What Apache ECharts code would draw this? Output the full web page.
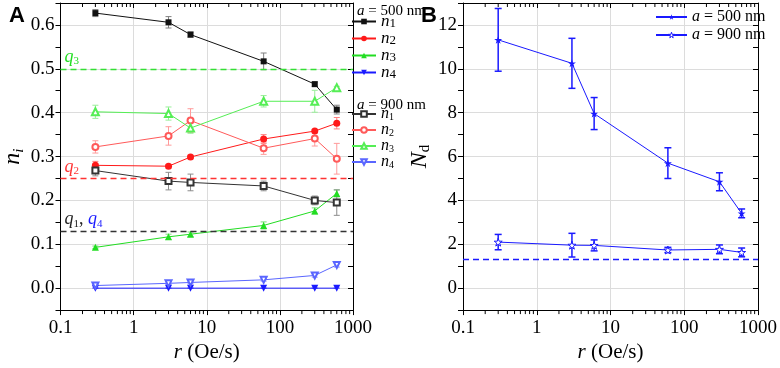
<!DOCTYPE html>
<html>
<head>
<meta charset="utf-8">
<script src="https://cdn.jsdelivr.net/npm/echarts@6/dist/echarts.min.js"></script>
<style>
  html, body { margin: 0; background: #fff; }
  #chart { width: 780px; height: 368px; }
</style>
</head>
<body>
<div id="chart"></div>
<script>
// sweep rates r (Oe/s)
const rates = [0.3, 3, 6, 60, 300, 600]

// panel A, a = 500 nm
const n1_500 = [0.627, 0.606, 0.578, 0.517, 0.465, 0.407]
const n1_500_err = [0.008, 0.013, 0.006, 0.019, 0.005, 0.01]
const n2_500 = [0.280, 0.278, 0.299, 0.340, 0.358, 0.376]
const n2_500_err = [0.009, 0.004, 0.004, 0.01, 0.004, 0.013]
const n3_500 = [0.093, 0.117, 0.123, 0.143, 0.176, 0.216]
const n3_500_err = [0.003, 0.006, 0.005, 0.008, 0.007, 0.008]
const n4_500 = [0, 0, 0, 0, 0, 0]
const n4_500_err = [0, 0, 0, 0, 0, 0]
// panel A, a = 900 nm
const n1_900 = [0.268, 0.244, 0.241, 0.233, 0.200, 0.195]
const n1_900_err = [0.012, 0.02, 0.019, 0.011, 0.01, 0.029]
const n2_900 = [0.322, 0.347, 0.382, 0.319, 0.341, 0.295]
const n2_900_err = [0.014, 0.021, 0.027, 0.014, 0.017, 0.035]
const n3_900 = [0.402, 0.398, 0.365, 0.426, 0.426, 0.457]
const n3_900_err = [0.015, 0.015, 0.012, 0.013, 0.025, 0.003]
const n4_900 = [0.006, 0.011, 0.013, 0.019, 0.029, 0.053]
const n4_900_err = [0.003, 0.003, 0.003, 0.003, 0.004, 0.005]
// q levels: q3, q2, q1 = q4
const qLevels = [0.5, 0.25, 0.125]

// panel B
const nd_500 = [11.32, 10.25, 7.96, 5.7, 4.85, 3.41]
const nd_500_err = [1.43, 1.14, 0.73, 0.7, 0.41, 0.2]
const nd_900 = [2.1, 1.96, 1.95, 1.74, 1.77, 1.63]
const nd_900_err = [0.35, 0.54, 0.25, 0.12, 0.2, 0.2]
const ndLimit = 1.32

// y ranges
const rangeA = [-0.05, 0.65]
const rangeB = [-1, 13]

// log minor tick values 2..9 per decade
const minorX = []
;[0.1, 1, 10, 100].forEach(d => {
  for (let k = 2; k <= 9; k++) minorX.push(k * d)
})

const SERIF = 'Liberation Serif'
const GRID_A = 0
const GRID_B = 1

const star = 'path://M50,0 L61,35 L98,35 L68,57 L79,91 L50,70 L21,91 L32,57 L2,35 L39,35 Z'

// x axes: main bottom, mirror top
function xAxes(gridIndex) {
  const base = {
    gridIndex,
    type: 'log',
    logBase: 10,
    min: 0.1,
    max: 1000,
    axisLine: { onZero: false, lineStyle: { color: '#000', width: 1 } }
  }
  return [
    {
      ...base,
      position: 'bottom',
      axisTick: { inside: false, length: 5, lineStyle: { color: '#000' } },
      axisLabel: {
        margin: 8,
        color: '#000',
        fontFamily: SERIF,
        fontSize: 19,
        formatter: v => String(+(+v).toPrecision(3))
      },
      splitLine: { show: true, lineStyle: { color: '#dcdcdc', width: 1 } },
      name: '{i|r} (Oe/s)',
      nameLocation: 'middle',
      nameGap: 27,
      nameTextStyle: {
        color: '#000',
        fontFamily: SERIF,
        fontSize: 21,
        rich: { i: { fontStyle: 'italic', fontFamily: SERIF, fontSize: 21 } }
      }
    },
    {
      ...base,
      position: 'top',
      axisTick: { inside: true, length: 5, lineStyle: { color: '#000' } },
      axisLabel: { show: false },
      splitLine: { show: false }
    }
  ]
}

// y axes: grid lines, labelled left ticks, mirrored right ticks
function yAxes(gridIndex, range, step, labelStep, name) {
  const base = { gridIndex, type: 'value', min: range[0], max: range[1] }
  return [
    {
      ...base,
      position: 'left',
      splitNumber: 7,
      axisLine: { show: true, onZero: false, lineStyle: { color: '#000' } },
      axisTick: { show: false },
      axisLabel: { show: false },
      splitLine: { show: true, lineStyle: { color: '#dcdcdc', width: 1 } },
      name,
      nameLocation: 'middle',
      nameRotate: 90,
      nameGap: gridIndex === GRID_A ? 34 : 30,
      nameTextStyle: {
        color: '#000',
        fontFamily: SERIF,
        fontSize: 24,
        rich: {
          n: { fontStyle: 'italic', fontFamily: SERIF, fontSize: 24 },
          s: { fontStyle: 'italic', fontFamily: SERIF, fontSize: 15, padding: [12, 0, 0, 0] },
          d: { fontFamily: SERIF, fontSize: 15, padding: [12, 0, 0, 0] }
        }
      }
    },
    {
      ...base,
      position: 'left',
      interval: step,
      axisLine: { show: false, onZero: false },
      axisTick: { inside: false, length: 5, lineStyle: { color: '#000' } },
      axisLabel: {
        margin: 6,
        color: '#000',
        fontFamily: SERIF,
        fontSize: 19,
        formatter: v => {
          const k = v / labelStep
          if (Math.abs(k - Math.round(k)) > 1e-6) return ''
          return labelStep < 1 ? (+v).toFixed(1) : String(Math.round(v))
        }
      },
      splitLine: { show: false }
    },
    {
      ...base,
      position: 'right',
      interval: step,
      axisLine: { show: true, onZero: false, lineStyle: { color: '#000' } },
      axisTick: { inside: true, length: 5, lineStyle: { color: '#000' } },
      axisLabel: { show: false },
      splitLine: { show: false }
    }
  ]
}

// log minor ticks on bottom (outward) and top (inward) of a grid
function minorTickSeries(xi, yi, range) {
  return {
    type: 'custom',
    xAxisIndex: xi,
    yAxisIndex: yi,
    silent: true,
    clip: false,
    z: 5,
    encode: { x: 0, y: [1, 2] },
    data: minorX.map(v => [v, range[0], range[1]]),
    renderItem: (params, api) => {
      const b = api.coord([api.value(0), api.value(1)])
      const t = api.coord([api.value(0), api.value(2)])
      const style = { stroke: '#000', lineWidth: 1 }
      return {
        type: 'group',
        children: [
          { type: 'line', shape: { x1: b[0], y1: b[1], x2: b[0], y2: b[1] + 4 }, style },
          { type: 'line', shape: { x1: t[0], y1: t[1], x2: t[0], y2: t[1] + 4 }, style }
        ]
      }
    }
  }
}

function lineSeries(name, xi, yi, vals, color, symbol, opts = {}) {
  return {
    name,
    type: 'line',
    xAxisIndex: xi,
    yAxisIndex: yi,
    data: rates.map((r, i) => [r, vals[i]]),
    symbol,
    symbolSize: opts.size || 7,
    symbolRotate: opts.rotate || 0,
    showAllSymbol: true,
    lineStyle: { color, width: 1 },
    itemStyle: opts.itemStyle || { color, borderWidth: 1 },
    z: 3,
    markLine: opts.markLine
  }
}

function errSeries(xi, yi, vals, errs, color, width, cap) {
  return {
    type: 'custom',
    xAxisIndex: xi,
    yAxisIndex: yi,
    silent: true,
    z: 2,
    encode: { x: 0, y: [1, 2] },
    data: rates.map((r, i) => [r, vals[i] - errs[i], vals[i] + errs[i]]),
    renderItem: (params, api) => {
      const lo = api.coord([api.value(0), api.value(1)])
      const hi = api.coord([api.value(0), api.value(2)])
      const style = { stroke: color, lineWidth: width }
      return {
        type: 'group',
        children: [
          { type: 'line', shape: { x1: lo[0], y1: lo[1], x2: hi[0], y2: hi[1] }, style },
          { type: 'line', shape: { x1: lo[0] - cap, y1: lo[1], x2: lo[0] + cap, y2: lo[1] }, style },
          { type: 'line', shape: { x1: hi[0] - cap, y1: hi[1], x2: hi[0] + cap, y2: hi[1] }, style }
        ]
      }
    }
  }
}

const BLACK = '#111111'
const RED = '#ff1a1a'
const GREEN = '#22dd22'
const BLUE = '#1a1aff'
const BLACK_O = '#333333'
const RED_O = '#ff5a5a'
const GREEN_O = '#55ee55'
const BLUE_O = '#5a66ff'

const qLine = {
  silent: true,
  symbol: 'none',
  animation: false,
  label: {
    show: true,
    position: 'insideStartTop',
    distance: [4, 2],
    fontFamily: SERIF,
    fontSize: 17,
    rich: {
      g: { color: '#22dd22', fontStyle: 'italic', fontFamily: SERIF, fontSize: 18 },
      gs: { color: '#22dd22', fontFamily: SERIF, fontSize: 11, padding: [8, 0, 0, 0] },
      r: { color: '#ff3333', fontStyle: 'italic', fontFamily: SERIF, fontSize: 18 },
      rs: { color: '#ff3333', fontFamily: SERIF, fontSize: 11, padding: [8, 0, 0, 0] },
      k: { color: '#222', fontStyle: 'italic', fontFamily: SERIF, fontSize: 18 },
      ks: { color: '#222', fontFamily: SERIF, fontSize: 11, padding: [8, 0, 0, 0] },
      c: { color: '#222', fontFamily: SERIF, fontSize: 18 },
      b: { color: '#1a1aff', fontStyle: 'italic', fontFamily: SERIF, fontSize: 18 },
      bs: { color: '#1a1aff', fontFamily: SERIF, fontSize: 11, padding: [8, 0, 0, 0] }
    }
  },
  data: [
    { yAxis: qLevels[0], lineStyle: { color: '#33e033', type: [6, 4], width: 1.3 }, label: { formatter: '{g|q}{gs|3}' } },
    { yAxis: qLevels[1], lineStyle: { color: '#ff3333', type: [6, 4], width: 1.3 }, label: { formatter: '{r|q}{rs|2}' } },
    { yAxis: qLevels[2], lineStyle: { color: '#333', type: [6, 4], width: 1.3 }, label: { formatter: '{k|q}{ks|1}{c|, }{b|q}{bs|4}' } }
  ]
}

const ndLine = {
  silent: true,
  symbol: 'none',
  animation: false,
  label: { show: false },
  data: [{ yAxis: ndLimit, lineStyle: { color: BLUE, type: [6, 4], width: 1.3 } }]
}

const xA = 0, yA = 0
const xB = 2, yB = 3

const series = [
  minorTickSeries(xA, yA, rangeA),
  minorTickSeries(xB, yB, rangeB),
  errSeries(xA, yA, n1_500, n1_500_err, '#808080', 1, 3),
  errSeries(xA, yA, n2_500, n2_500_err, '#ff8080', 1, 3),
  errSeries(xA, yA, n3_500, n3_500_err, '#77dd77', 1, 3),
  errSeries(xA, yA, n4_500, n4_500_err, '#7777ff', 1, 3),
  errSeries(xA, yA, n1_900, n1_900_err, '#8c8c8c', 1, 3),
  errSeries(xA, yA, n2_900, n2_900_err, '#ff9a9a', 1, 3),
  errSeries(xA, yA, n3_900, n3_900_err, '#99ee99', 1, 3),
  errSeries(xA, yA, n4_900, n4_900_err, '#9a9aff', 1, 3),
  lineSeries('n1_500', xA, yA, n1_500, BLACK, 'rect', { size: 6 }),
  lineSeries('n2_500', xA, yA, n2_500, RED, 'circle', { size: 7 }),
  lineSeries('n3_500', xA, yA, n3_500, GREEN, 'triangle', { size: 7 }),
  lineSeries('n4_500', xA, yA, n4_500, BLUE, 'triangle', { size: 7, rotate: 180, markLine: qLine }),
  lineSeries('n1_900', xA, yA, n1_900, BLACK_O, 'emptyRect', { size: 6 }),
  lineSeries('n2_900', xA, yA, n2_900, RED_O, 'emptyCircle', { size: 6 }),
  lineSeries('n3_900', xA, yA, n3_900, GREEN_O, 'emptyTriangle', { size: 7 }),
  lineSeries('n4_900', xA, yA, n4_900, BLUE_O, 'emptyTriangle', { size: 6, rotate: 180 }),
  errSeries(xB, yB, nd_500, nd_500_err, BLUE, 1.5, 3.5),
  errSeries(xB, yB, nd_900, nd_900_err, BLUE, 1.5, 3.5),
  lineSeries('nd_500', xB, yB, nd_500, BLUE, star, { size: 8 }),
  lineSeries('nd_900', xB, yB, nd_900, BLUE, star, {
    size: 8,
    itemStyle: { color: '#ffffff', borderColor: BLUE, borderWidth: 1 },
    markLine: ndLine
  })
]

const legendRich = {
  n: { fontStyle: 'italic', fontFamily: SERIF, fontSize: 17, color: '#000', lineHeight: 17, verticalAlign: 'middle' },
  s: { fontFamily: SERIF, fontSize: 13, color: '#000', lineHeight: 17, verticalAlign: 'bottom' },
  t: { fontFamily: SERIF, fontSize: 10, color: '#000', lineHeight: 16, verticalAlign: 'bottom' }
}

const chart = echarts.init(document.getElementById('chart'), null, { renderer: 'canvas' })
chart.setOption({
  animation: false,
  backgroundColor: '#ffffff',
  title: [
    { text: 'A', left: 4, top: 0, textStyle: { fontFamily: 'Liberation Sans', fontWeight: 'bold', fontSize: 22, color: '#000' } },
    { text: 'B', left: 416, top: 0, textStyle: { fontFamily: 'Liberation Sans', fontWeight: 'bold', fontSize: 22, color: '#000' } },
    {
      text: '{i|a} = 500 nm', left: 352, top: -1,
      textStyle: { fontFamily: SERIF, fontWeight: 'normal', fontSize: 15, color: '#000', rich: { i: { fontStyle: 'italic', fontFamily: SERIF, fontSize: 15 } } }
    },
    {
      text: '{i|a} = 900 nm', left: 352, top: 93,
      textStyle: { fontFamily: SERIF, fontWeight: 'normal', fontSize: 15, color: '#000', rich: { i: { fontStyle: 'italic', fontFamily: SERIF, fontSize: 15 } } }
    }
  ],
  legend: [
    {
      data: ['n1_500', 'n2_500', 'n3_500', 'n4_500'],
      orient: 'vertical',
      left: 351,
      top: 13,
      padding: 0,
      itemWidth: 24,
      itemHeight: 7,
      itemGap: 0,
      formatter: name => `{n|n}{s|${name[1]}}`,
      textStyle: { rich: legendRich }
    },
    {
      data: ['n1_900', 'n2_900', 'n3_900', 'n4_900'],
      orient: 'vertical',
      left: 351,
      top: 106,
      padding: 0,
      itemWidth: 24,
      itemHeight: 7,
      itemGap: 0,
      formatter: name => `{n|n}{t|${name[1]}}`,
      textStyle: { rich: { ...legendRich, n: { ...legendRich.n, fontSize: 16, lineHeight: 16 } } }
    },
    {
      data: [
        { name: 'nd_500' },
        { name: 'nd_900', itemStyle: { color: '#ffffff', borderColor: BLUE, borderWidth: 1 } }
      ],
      orient: 'vertical',
      left: 655,
      top: 9,
      padding: 0,
      itemWidth: 31,
      itemHeight: 7,
      itemGap: 2,
      formatter: name => (name === 'nd_500' ? '{i|a} = 500 nm' : '{i|a} = 900 nm'),
      textStyle: {
        fontFamily: SERIF,
        fontSize: 16,
        color: '#000',
        lineHeight: 15,
        rich: { i: { fontStyle: 'italic', fontFamily: SERIF, fontSize: 16 } }
      }
    }
  ],
  grid: [
    { left: 56, top: 3, width: 297, height: 316 },
    { left: 463, top: 3, width: 297, height: 316 }
  ],
  xAxis: [...xAxes(GRID_A), ...xAxes(GRID_B)],
  yAxis: [
    ...yAxes(GRID_A, rangeA, 0.05, 0.1, '{n|n}{s|i}'),
    ...yAxes(GRID_B, rangeB, 1, 2, '{n|N}{d|d}')
  ],
  series
})
</script>
</body>
</html>
